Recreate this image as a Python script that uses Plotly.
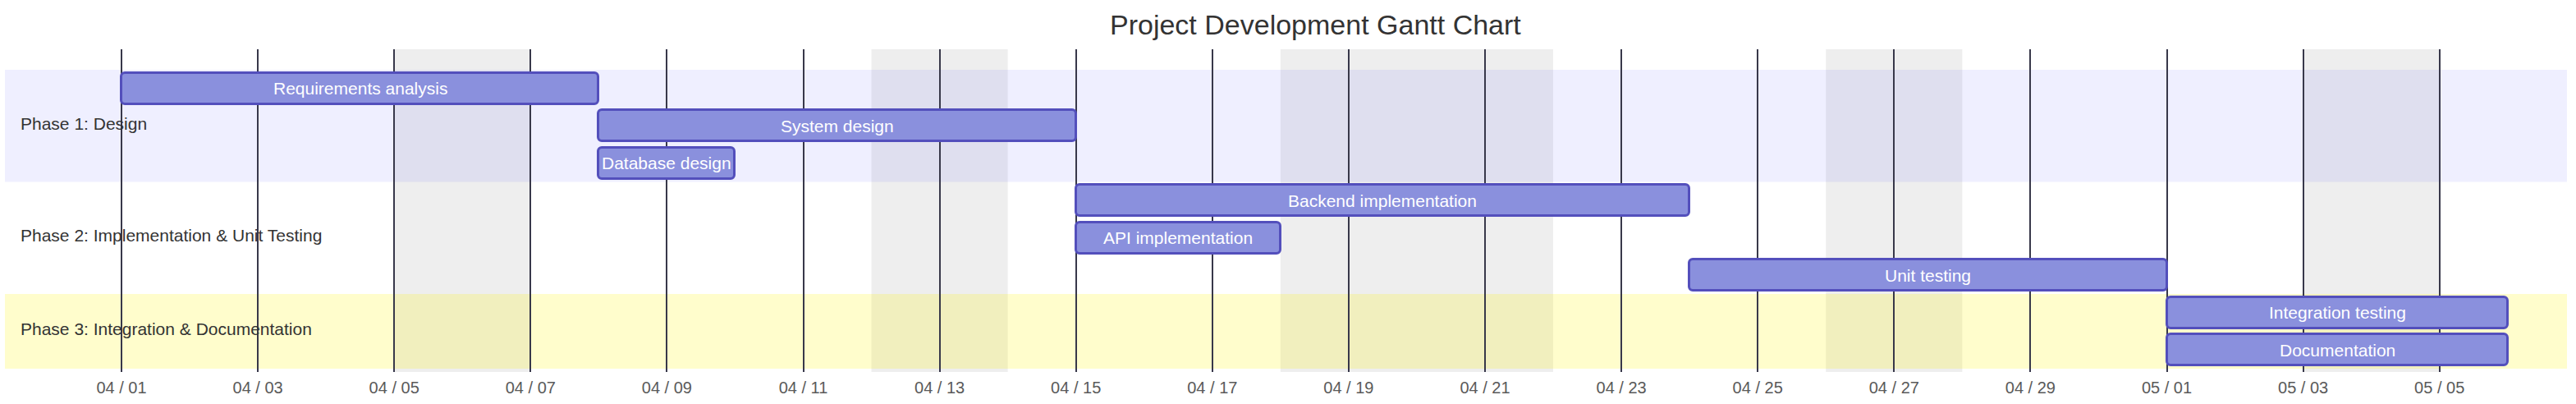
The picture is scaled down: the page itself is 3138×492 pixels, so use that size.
import pandas as pd
import plotly.graph_objects as go

# ---------------- data ----------------
title_text = "Project Development Gantt Chart"
sections = ["Phase 1: Design", "Phase 2: Implementation & Unit Testing", "Phase 3: Integration & Documentation"]
task_names = ["Requirements analysis", "System design", "Database design",
              "Backend implementation", "API implementation", "Unit testing",
              "Integration testing", "Documentation"]
task_section = [0, 0, 0, 1, 1, 1, 2, 2]
task_start = ["2025-04-01", "2025-04-08", "2025-04-08", "2025-04-15",
              "2025-04-15", "2025-04-24", "2025-05-01", "2025-05-01"]
task_end = ["2025-04-08", "2025-04-15", "2025-04-10", "2025-04-24",
            "2025-04-18", "2025-05-01", "2025-05-06", "2025-05-06"]
excluded_start = ["2025-04-05", "2025-04-12", "2025-04-18", "2025-04-26", "2025-05-03"]
excluded_end = ["2025-04-07", "2025-04-14", "2025-04-22", "2025-04-28", "2025-05-05"]
tick_start = "2025-04-01"

# ---------------- styling / layout ----------------
W, H = 3138, 492
FONT = "Liberation Sans, Arial, sans-serif"
PLOT_L, PLOT_R, PLOT_T, PLOT_B = 6, 3127, 60, 453
DAY_PX = 83.05
ORIGIN_PX = 148
ROW_PX = 45.5
BAND_TOP = 85

starts = pd.to_datetime(task_start)
ends = pd.to_datetime(task_end)
dur_ms = [(e - s).total_seconds() * 1000 for s, e in zip(starts, ends)]
rows = list(range(len(task_names)))
t0 = pd.Timestamp(tick_start)

x_left = t0 + pd.Timedelta(days=(PLOT_L - ORIGIN_PX) / DAY_PX)
x_right = t0 + pd.Timedelta(days=(PLOT_R - ORIGIN_PX) / DAY_PX)
y_top = -0.5 - (BAND_TOP - PLOT_T) / ROW_PX
y_bot = len(rows) - 0.5 + (PLOT_B - (BAND_TOP + ROW_PX * len(rows))) / ROW_PX

fig = go.Figure()
fig.add_trace(go.Bar(
    orientation="h",
    y=rows,
    x=dur_ms,
    base=[s.isoformat() for s in starts],
    width=38 / ROW_PX,
    marker=dict(color="#8a90dd", line=dict(color="#534fbc", width=3), cornerradius=5),
    hoverinfo="skip",
    showlegend=False,
))

shapes = []
# excluded days (grey)
for a, b in zip(excluded_start, excluded_end):
    shapes.append(dict(type="rect", xref="x", yref="paper", x0=a, x1=b, y0=0, y1=1,
                       fillcolor="#eeeeee", line=dict(width=0), layer="below"))
# section bands
band_colors = ["rgba(102,102,255,0.10)", "rgba(255,255,255,0)", "rgba(255,244,0,0.20)"]
for si in range(len(sections)):
    idx = [i for i, s in enumerate(task_section) if s == si]
    shapes.append(dict(type="rect", xref="paper", yref="y", x0=0, x1=1,
                       y0=min(idx) - 0.5, y1=max(idx) + 0.5,
                       fillcolor=band_colors[si], line=dict(width=0), layer="below"))

annotations = []
for i, name in enumerate(task_names):
    mid = starts[i] + (ends[i] - starts[i]) / 2
    annotations.append(dict(x=mid.isoformat(), y=rows[i], xref="x", yref="y", text=name,
                            showarrow=False, font=dict(family=FONT, size=21, color="white"),
                            xanchor="center", yanchor="middle"))
for si, sec in enumerate(sections):
    idx = [i for i, s in enumerate(task_section) if s == si]
    annotations.append(dict(x=(23 - PLOT_L) / (PLOT_R - PLOT_L), y=(min(idx) + max(idx)) / 2,
                            xref="paper", yref="y", text=sec, showarrow=False, yshift=3,
                            font=dict(family=FONT, size=21, color="#333333"),
                            xanchor="left", yanchor="middle"))
annotations.append(dict(x=(1602 - PLOT_L) / (PLOT_R - PLOT_L),
                        y=1 + (PLOT_T - 30) / (PLOT_B - PLOT_T),
                        xref="paper", yref="paper", text=title_text, showarrow=False,
                        font=dict(family=FONT, size=34, color="#333333"),
                        xanchor="center", yanchor="middle"))

fig.update_layout(
    width=W, height=H,
    margin=dict(l=PLOT_L, r=W - PLOT_R, t=PLOT_T, b=H - PLOT_B),
    paper_bgcolor="white", plot_bgcolor="rgba(0,0,0,0)",
    shapes=shapes, annotations=annotations,
    bargap=0,
    xaxis=dict(type="date", range=[x_left.isoformat(), x_right.isoformat()],
               tick0=tick_start, dtick=2 * 86400000, tickformat="%m / %d",
               showgrid=True, gridcolor="#38384a", gridwidth=2,
               zeroline=False, showline=False, ticks="", ticklabelstandoff=5,
               tickfont=dict(family=FONT, size=20, color="#5a5a5a")),
    yaxis=dict(range=[y_bot, y_top], showticklabels=False, showgrid=False,
               zeroline=False, showline=False, ticks=""),
)

fig.write_html("out.html", config={"displayModeBar": False},
               post_script="document.body.style.margin='0';")
